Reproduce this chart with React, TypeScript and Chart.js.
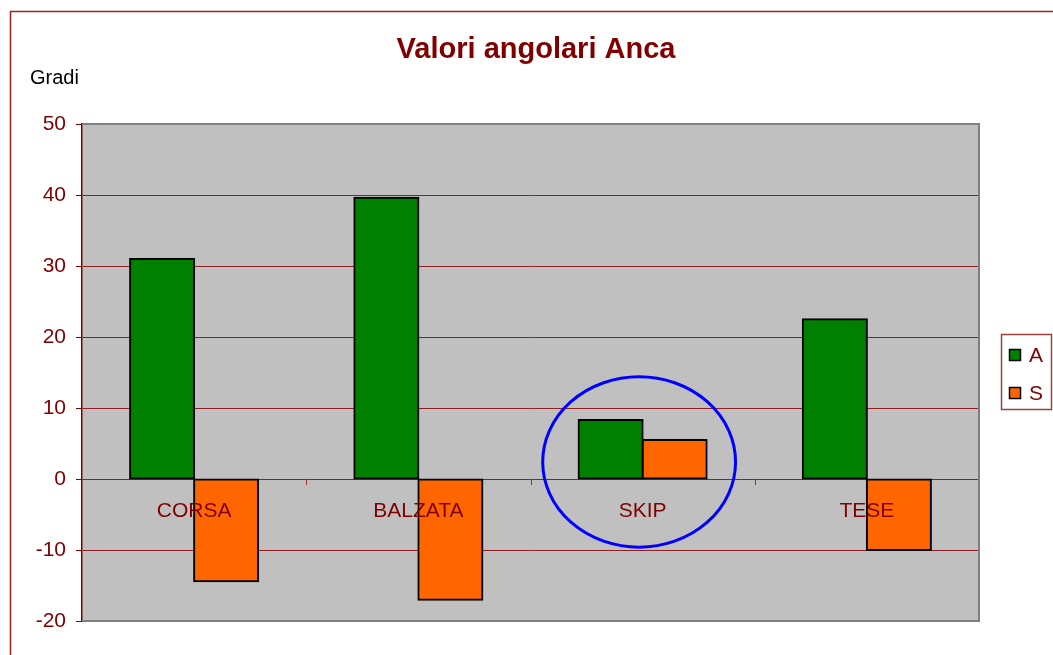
import React, { useEffect, useRef } from "react";
import { Chart, registerables } from "chart.js";

Chart.register(...registerables);

const categories = ["CORSA", "BALZATA", "SKIP", "TESE"];
const seriesA = [31, 39.6, 8.3, 22.5];
const seriesS = [-14.4, -17, 5.5, -10];
const seriesNames = ["A", "S"];
const yMin = -20;
const yMax = 50;
const yStep = 10;
const titleText = "Valori angolari Anca";
const yAxisTitle = "Gradi";
const highlightIndex = 2;
const highlightYRange = [-9.6, 14.4];

const FONT = "'Liberation Sans', Arial, sans-serif";
const DARK_RED = "#800000";
const GREEN = "#008000";
const ORANGE = "#ff6600";

const decorPlugin = {
  id: "decor",
  beforeDraw(chart: any) {
    const { ctx, chartArea: a } = chart;
    ctx.save();
    ctx.fillStyle = "#ffffff";
    ctx.fillRect(0, 0, chart.width, chart.height);
    // outer frame
    ctx.strokeStyle = "#a02020";
    ctx.lineWidth = 1.5;
    ctx.beginPath();
    ctx.moveTo(10.5, chart.height);
    ctx.lineTo(10.5, 11.5);
    ctx.lineTo(chart.width, 11.5);
    ctx.stroke();
    // plot background
    ctx.fillStyle = "#c0c0c0";
    ctx.fillRect(a.left, a.top, a.right - a.left, a.bottom - a.top);
    ctx.restore();
  },
  afterDatasetsDraw(chart: any) {
    const { ctx, chartArea: a, scales } = chart;
    const x = scales.x;
    const y = scales.y;
    ctx.save();
    // plot border (gray) top/right/bottom
    ctx.strokeStyle = "#808080";
    ctx.lineWidth = 2;
    ctx.beginPath();
    ctx.moveTo(a.left, a.top);
    ctx.lineTo(a.right, a.top);
    ctx.lineTo(a.right, a.bottom);
    ctx.lineTo(a.left, a.bottom);
    ctx.stroke();
    // category tick marks on zero line
    const y0 = y.getPixelForValue(0);
    const catW = (a.right - a.left) / categories.length;
    ctx.strokeStyle = "#a03030";
    ctx.lineWidth = 1;
    for (let i = 0; i < categories.length - 1; i++) {
      const px = Math.round(x.getPixelForValue(i) + catW / 2) + 0.5;
      ctx.beginPath();
      ctx.moveTo(px, y0);
      ctx.lineTo(px, y0 + 6);
      ctx.stroke();
    }
    // category labels
    ctx.fillStyle = DARK_RED;
    ctx.font = `21px ${FONT}`;
    ctx.textAlign = "center";
    ctx.textBaseline = "middle";
    categories.forEach((c, i) => {
      ctx.fillText(c, x.getPixelForValue(i), y0 + 32);
    });
    ctx.restore();
  },
  afterDraw(chart: any) {
    const { ctx, chartArea: a, scales } = chart;
    const x = scales.x;
    const y = scales.y;
    ctx.save();
    // title
    ctx.fillStyle = DARK_RED;
    ctx.font = `bold 29px ${FONT}`;
    ctx.textAlign = "center";
    ctx.textBaseline = "middle";
    ctx.fillText(titleText, 536, 50);
    // axis title
    ctx.fillStyle = "#000000";
    ctx.font = `20px ${FONT}`;
    ctx.textAlign = "left";
    ctx.fillText(yAxisTitle, 30, 78);
    // legend
    ctx.strokeStyle = "#a04040";
    ctx.lineWidth = 1.5;
    ctx.strokeRect(1001.5, 334.5, 50, 75);
    const colors = [GREEN, ORANGE];
    seriesNames.forEach((n, i) => {
      const cy = 355 + i * 38;
      ctx.fillStyle = colors[i];
      ctx.fillRect(1009.5, cy - 5.5, 11, 11);
      ctx.strokeStyle = "#000";
      ctx.lineWidth = 1.5;
      ctx.strokeRect(1009.5, cy - 5.5, 11, 11);
      ctx.fillStyle = DARK_RED;
      ctx.font = `21px ${FONT}`;
      ctx.textAlign = "left";
      ctx.fillText(n, 1029, cy + 1);
    });
    // highlight ellipse
    const catW = (a.right - a.left) / categories.length;
    const cx = x.getPixelForValue(highlightIndex);
    const yTop = y.getPixelForValue(highlightYRange[1]);
    const yBot = y.getPixelForValue(highlightYRange[0]);
    ctx.strokeStyle = "#0000ff";
    ctx.lineWidth = 3;
    ctx.beginPath();
    ctx.ellipse(cx - 3.5, (yTop + yBot) / 2, catW * 0.43, (yBot - yTop) / 2, 0, 0, Math.PI * 2);
    ctx.stroke();
    ctx.restore();
  },
};

export default function App() {
  const ref = useRef<HTMLCanvasElement>(null);
  useEffect(() => {
    if (!ref.current) return;
    const chart = new Chart(ref.current, {
      type: "bar",
      data: {
        labels: categories,
        datasets: [
          {
            label: seriesNames[0],
            data: seriesA,
            backgroundColor: GREEN,
            borderColor: "#000",
            borderWidth: 2,
            borderSkipped: false,
            inflateAmount: 1,
            barPercentage: 1,
            categoryPercentage: 0.571,
          },
          {
            label: seriesNames[1],
            data: seriesS,
            backgroundColor: ORANGE,
            borderColor: "#000",
            borderWidth: 2,
            borderSkipped: false,
            inflateAmount: 1,
            barPercentage: 1,
            categoryPercentage: 0.571,
          },
        ],
      },
      options: {
        responsive: false,
        animation: false,
        layout: { padding: { left: 10, top: 124, right: 74, bottom: 34 } },
        plugins: { legend: { display: false }, title: { display: false }, tooltip: { enabled: false } },
        scales: {
          x: { display: false },
          y: {
            min: yMin,
            max: yMax,
            afterFit: (s: any) => {
              s.width = 72;
            },
            ticks: {
              stepSize: yStep,
              color: DARK_RED,
              padding: 10,
              font: { family: FONT, size: 21 },
            },
            grid: {
              color: (c: any) =>
                c.tick && (c.tick.value === yMax || c.tick.value === yMin) ? "rgba(0,0,0,0)" : "#902020",
              tickColor: DARK_RED,
              tickLength: 6,
              lineWidth: 1,
            },
            border: { color: DARK_RED, width: 1.5 },
          },
        },
      },
      plugins: [decorPlugin],
    });
    return () => chart.destroy();
  }, []);
  return (
    <div style={{ position: "absolute", left: 0, top: 0, width: 1053, height: 655 }}>
      <canvas ref={ref} width={1053} height={655} style={{ display: "block" }} />
    </div>
  );
}
